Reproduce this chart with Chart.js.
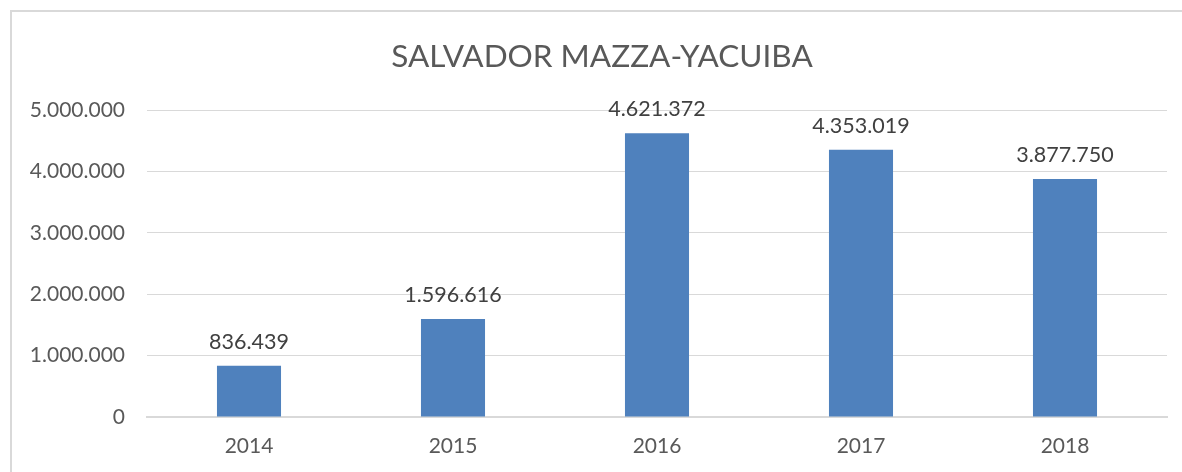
<!DOCTYPE html>
<html>
<head>
<meta charset="utf-8">
<script src="https://cdn.jsdelivr.net/npm/chart.js@4"></script>
<style>
  html, body { margin: 0; padding: 0; background: #fff; overflow: hidden; }
  #marco { position: absolute; left: 10px; top: 10px; width: 1200px; height: 500px; border: 2px solid #d9d9d9; box-sizing: border-box; }
  #wrap { position: absolute; left: 0; top: 0; width: 1182px; height: 472px; }
</style>
</head>
<body>
<div id="marco"></div>
<div id="wrap"><canvas id="myChart"></canvas></div>
<script>
var titulo = 'SALVADOR MAZZA-YACUIBA';
var anios = ['2014', '2015', '2016', '2017', '2018'];
var pasajeros = [836439, 1596616, 4621372, 4353019, 3877750];
var ticksY = [0, 1000000, 2000000, 3000000, 4000000, 5000000];

var fuente = 'Lato, "Open Sans", sans-serif';

function formato(n) {
    return String(n).replace(/\B(?=(\d{3})+(?!\d))/g, '.');
}

// etiquetas de valor encima de cada barra + titulo (centrado sobre el marco, no sobre el canvas)
var etiquetas = {
    id: 'etiquetas',
    afterDatasetsDraw: function (chart) {
        var ctx = chart.ctx;
        var meta = chart.getDatasetMeta(0);
        ctx.save();
        ctx.font = '21.5px ' + fuente;
        ctx.fillStyle = '#404040';
        ctx.textAlign = 'center';
        ctx.textBaseline = 'alphabetic';
        meta.data.forEach(function (bar, i) {
            ctx.fillText(formato(pasajeros[i]), bar.x, bar.y - 17);
        });

        ctx.font = '31.5px ' + fuente;
        ctx.fillStyle = '#595959';
        ctx.fillText(titulo, 602, 67);
        ctx.restore();
    }
};

var ctx = document.getElementById('myChart').getContext('2d');
var myChart = new Chart(ctx, {
    type: 'bar',
    data: {
        labels: anios,
        datasets: [{
            label: titulo,
            data: pasajeros,
            backgroundColor: '#4f81bd',
            barPercentage: 0.314,
            categoryPercentage: 1
        }]
    },
    options: {
        responsive: true,
        maintainAspectRatio: false,
        animation: false,
        layout: { padding: { left: 0, right: 15, top: 110, bottom: 0 } },
        plugins: {
            legend: { display: false },
            tooltip: { enabled: false },
            title: { display: false }
        },
        scales: {
            x: {
                grid: { display: false, drawTicks: false },
                border: { display: true, color: '#d9d9d9', width: 2 },
                ticks: { color: '#595959', font: { family: fuente, size: 21 }, padding: 17 },
                afterFit: function (scale) { scale.height = 55; }
            },
            y: {
                min: 0,
                max: 5000000,
                afterBuildTicks: function (scale) {
                    scale.ticks = ticksY.map(function (v) { return { value: v }; });
                },
                grid: { color: '#d9d9d9', drawTicks: false },
                border: { display: false },
                ticks: {
                    color: '#595959',
                    font: { family: fuente, size: 21 },
                    padding: 22,
                    callback: function (v) { return formato(v); }
                },
                afterFit: function (scale) { scale.width = 147; }
            }
        }
    },
    plugins: [etiquetas]
});
</script>
</body>
</html>
